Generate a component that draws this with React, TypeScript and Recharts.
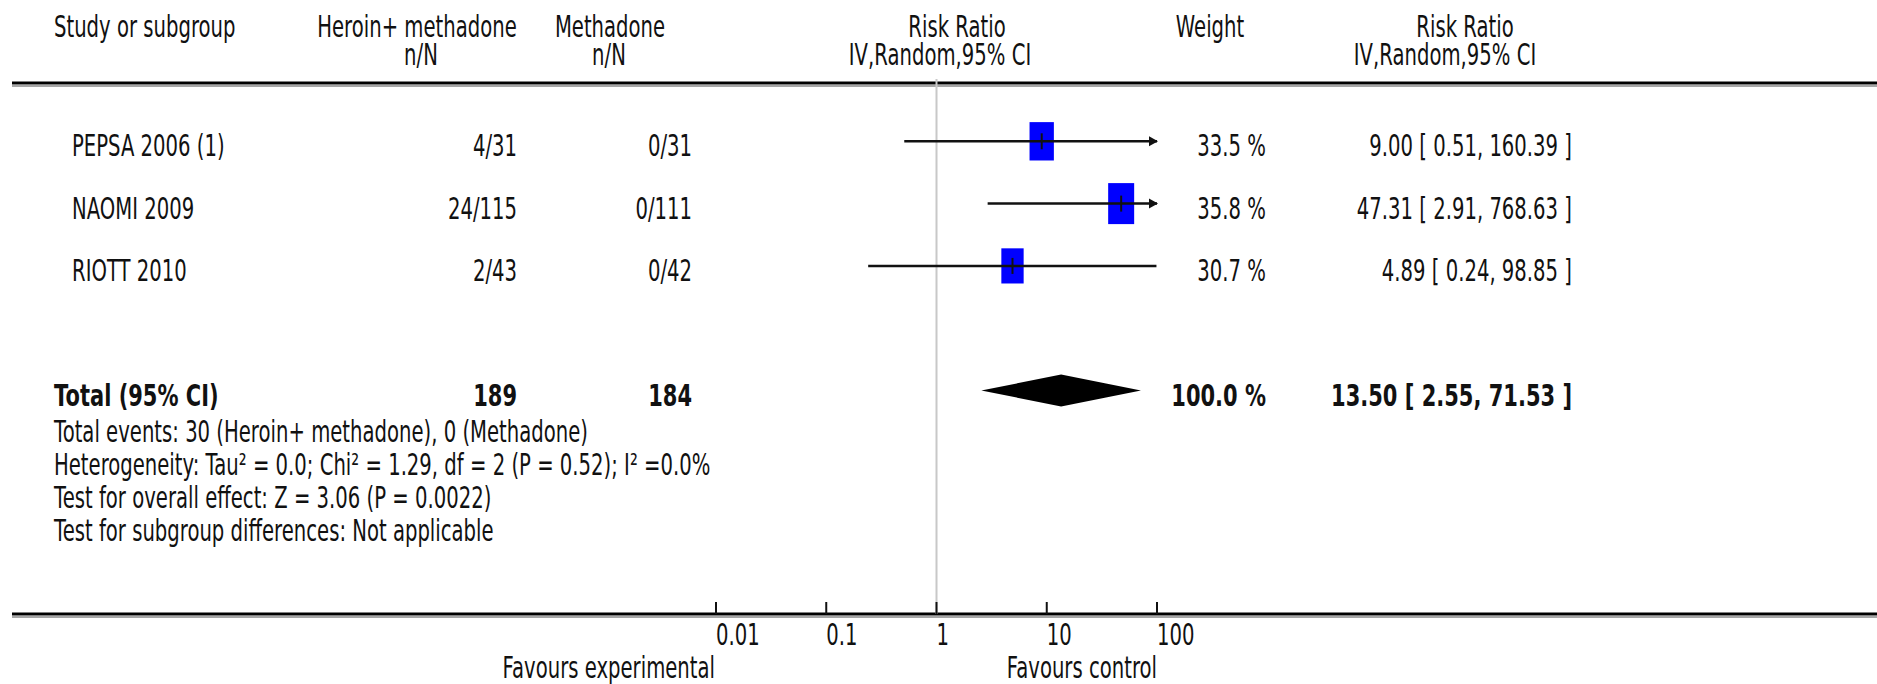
import React from 'react';
import { ComposedChart, XAxis, YAxis, Scatter, ReferenceLine, Customized } from 'recharts';

if (typeof document !== 'undefined') {
  document.body.style.margin = '0';
}

// ---------- data ----------
const STUDIES = ['PEPSA 2006 (1)', 'NAOMI 2009', 'RIOTT 2010'];
const EXP_EVENTS = [4, 24, 2];
const EXP_TOTAL = [31, 115, 43];
const CTRL_EVENTS = [0, 0, 0];
const CTRL_TOTAL = [31, 111, 42];
const RR = [9.0, 47.31, 4.89];
const CI_LOW = [0.51, 2.91, 0.24];
const CI_HIGH = [160.39, 768.63, 98.85];
const WEIGHTS = [33.5, 35.8, 30.7];
const ROWS = [1, 2, 3];

const TOTAL_ROW = 5;
const TOTAL_RR = 13.5;
const TOTAL_LOW = 2.55;
const TOTAL_HIGH = 71.53;
const TOTAL_WEIGHT = 100.0;
const TOTAL_EXP = 189;
const TOTAL_CTRL = 184;
const TOTAL_EVENTS_EXP = 30;
const TOTAL_EVENTS_CTRL = 0;
const FOOTNOTES = [
  `Total events: ${TOTAL_EVENTS_EXP} (Heroin+ methadone), ${TOTAL_EVENTS_CTRL} (Methadone)`,
  'Heterogeneity: Tau² = 0.0; Chi² = 1.29, df = 2 (P = 0.52); I² =0.0%',
  'Test for overall effect: Z = 3.06 (P = 0.0022)',
  'Test for subgroup differences: Not applicable',
];
const X_TICKS = [0.01, 0.1, 1, 10, 100];
const X_MIN = 0.01;
const X_MAX = 100;
const Y_MAX = 8.587;

// ---------- style ----------
const W = 1877;
const H = 684;
const FONT = '"DejaVu Sans", sans-serif';
const FS = 30;
const SX = 0.655;
const SX_BOLD = 0.7;
const INK = '#111';
const ROW_BASE = 15;

const fmt = (v: number) => v.toFixed(2);
const ciText = (r: number, lo: number, hi: number) => `${fmt(r)} [ ${fmt(lo)}, ${fmt(hi)} ]`;

function T({ x, y, anchor = 'start', bold = false, children }: any) {
  return (
    <text
      transform={`translate(${x},${y}) scale(${bold ? SX_BOLD : SX},1)`}
      textAnchor={anchor}
      fontFamily={FONT}
      fontSize={FS}
      fontWeight={bold ? 'bold' : 'normal'}
      fill={INK}
    >
      {children}
    </text>
  );
}

const studyPoints = STUDIES.map((name, i) => ({
  x: RR[i],
  y: ROWS[i],
  name,
  exp: `${EXP_EVENTS[i]}/${EXP_TOTAL[i]}`,
  ctrl: `${CTRL_EVENTS[i]}/${CTRL_TOTAL[i]}`,
  weight: WEIGHTS[i],
  ci: ciText(RR[i], CI_LOW[i], CI_HIGH[i]),
}));

const ciSegments = STUDIES.map((_, i) => ({
  arrow: CI_HIGH[i] > X_MAX,
  data: [
    { x: Math.max(CI_LOW[i], X_MIN), y: ROWS[i] },
    { x: Math.min(CI_HIGH[i], X_MAX), y: ROWS[i] },
  ],
}));

const diamondData = [
  { x: TOTAL_LOW, y: TOTAL_ROW },
  { x: TOTAL_RR, y: TOTAL_ROW },
  { x: TOTAL_HIGH, y: TOTAL_ROW },
];

const totalPoint = [{ x: TOTAL_RR, y: TOTAL_ROW }];

const COL = { name: 72, total: 54, exp: 517, ctrl: 692, weight: 1266, ci: 1572 };

const BoxShape = (props: any) => {
  const { cx, cy, payload } = props;
  const bw = (26 * payload.weight) / 35.8;
  const bh = (41 * payload.weight) / 35.8;
  const ty = cy + ROW_BASE;
  return (
    <g>
      <rect x={cx - bw / 2} y={cy - bh / 2} width={bw} height={bh} fill="#0000ff" />
      <line x1={cx} x2={cx} y1={cy - 8} y2={cy + 8} stroke={INK} strokeWidth={2} />
      <T x={COL.name} y={ty}>{payload.name}</T>
      <T x={COL.exp} y={ty} anchor="end">{payload.exp}</T>
      <T x={COL.ctrl} y={ty} anchor="end">{payload.ctrl}</T>
      <T x={COL.weight} y={ty} anchor="end">{`${payload.weight.toFixed(1)} %`}</T>
      <T x={COL.ci} y={ty} anchor="end">{payload.ci}</T>
    </g>
  );
};

const makeCiLine = (arrow: boolean) => (props: any) => {
  const pts = props.points || [];
  if (pts.length < 2) return <g />;
  const a = pts[0];
  const b = pts[1];
  return (
    <g>
      <line x1={a.x} y1={a.y} x2={b.x} y2={b.y} stroke={INK} strokeWidth={2.5} />
      {arrow && (
        <polygon
          points={`${b.x + 1},${b.y} ${b.x - 8},${b.y - 5} ${b.x - 8},${b.y + 5}`}
          fill={INK}
        />
      )}
    </g>
  );
};

const DiamondLine = (props: any) => {
  const pts = props.points || [];
  if (pts.length < 3) return <g />;
  const [l, c, r] = pts;
  const dh = 16;
  return (
    <polygon
      points={`${l.x},${l.y} ${c.x},${c.y - dh} ${r.x},${r.y} ${c.x},${c.y + dh}`}
      fill="#000"
    />
  );
};

const NoShape = () => <g />;

const TotalShape = (props: any) => {
  const { cy } = props;
  const ty = cy + ROW_BASE;
  return (
    <g>
      <T x={COL.total} y={ty} bold>Total (95% CI)</T>
      <T x={COL.exp} y={ty} anchor="end" bold>{String(TOTAL_EXP)}</T>
      <T x={COL.ctrl} y={ty} anchor="end" bold>{String(TOTAL_CTRL)}</T>
      <T x={COL.weight} y={ty} anchor="end" bold>{`${TOTAL_WEIGHT.toFixed(1)} %`}</T>
      <T x={COL.ci} y={ty} anchor="end" bold>{ciText(TOTAL_RR, TOTAL_LOW, TOTAL_HIGH)}</T>
      {FOOTNOTES.map((f, i) => (
        <T key={i} x={COL.total} y={ty + 36 + i * 33}>{f}</T>
      ))}
    </g>
  );
};

const AxisTick = (props: any) => {
  const { x, y, payload } = props;
  return (
    <g>
      <line x1={x} x2={x} y1={y - 12} y2={y} stroke={INK} strokeWidth={2} />
      <T x={x} y={y + 31}>{String(payload.value)}</T>
    </g>
  );
};

const Decor = () => (
  <g>
    {/* header rule */}
    <line x1={12} x2={W} y1={83} y2={83} stroke="#000" strokeWidth={3} />
    <line x1={12} x2={W} y1={86} y2={86} stroke="#888" strokeWidth={1.5} />
    {/* bottom rule */}
    <line x1={12} x2={W} y1={614} y2={614} stroke="#000" strokeWidth={3} />
    <line x1={12} x2={W} y1={617} y2={617} stroke="#888" strokeWidth={1.5} />
    {/* headers */}
    <T x={54} y={37}>Study or subgroup</T>
    <T x={417} y={37} anchor="middle">Heroin+ methadone</T>
    <T x={421} y={65} anchor="middle">n/N</T>
    <T x={610} y={37} anchor="middle">Methadone</T>
    <T x={609} y={65} anchor="middle">n/N</T>
    <T x={957} y={37} anchor="middle">Risk Ratio</T>
    <T x={940} y={65} anchor="middle">IV,Random,95% CI</T>
    <T x={1210} y={37} anchor="middle">Weight</T>
    <T x={1465} y={37} anchor="middle">Risk Ratio</T>
    <T x={1445} y={65} anchor="middle">IV,Random,95% CI</T>
    {/* favours */}
    <T x={715} y={678} anchor="end">Favours experimental</T>
    <T x={1157} y={678} anchor="end">Favours control</T>
  </g>
);

export default function App() {
  return (
    <div style={{ width: W, height: H, background: '#fff' }}>
      <ComposedChart width={W} height={H} margin={{ top: 79, right: 720, bottom: 10, left: 716 }}>
        <XAxis
          type="number"
          dataKey="x"
          scale="log"
          domain={[X_MIN, X_MAX]}
          ticks={X_TICKS}
          interval={0}
          axisLine={false}
          tickLine={false}
          tickSize={0}
          tickMargin={0}
          height={60}
          tick={AxisTick}
        />
        <YAxis type="number" dataKey="y" domain={[0, Y_MAX]} reversed hide />
        <ReferenceLine x={1} stroke="#c8c8c8" strokeWidth={2} />
        <Customized component={Decor} />
        <Scatter data={studyPoints} shape={BoxShape} isAnimationActive={false} />
        {ciSegments.map((s, i) => (
          <Scatter
            key={i}
            data={s.data}
            line={makeCiLine(s.arrow)}
            lineType="joint"
            shape={NoShape}
            isAnimationActive={false}
          />
        ))}
        <Scatter data={diamondData} line={DiamondLine} lineType="joint" shape={NoShape} isAnimationActive={false} />
        <Scatter data={totalPoint} shape={TotalShape} isAnimationActive={false} />
      </ComposedChart>
    </div>
  );
}
